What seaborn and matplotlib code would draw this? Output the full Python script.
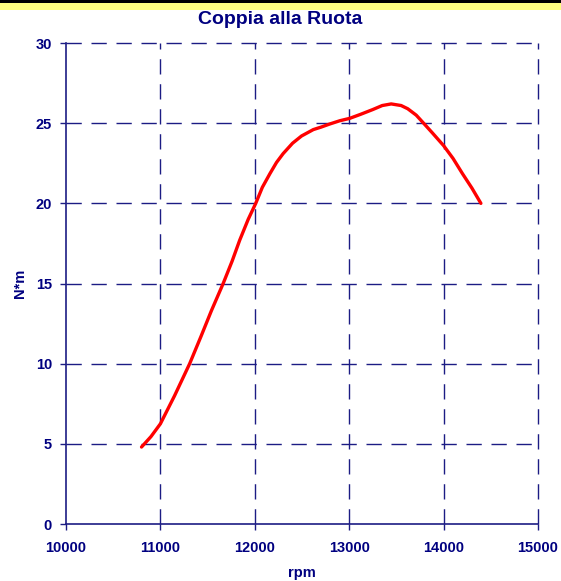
import numpy as np
import pandas as pd
import matplotlib
matplotlib.use("Agg")
import matplotlib.pyplot as plt
import seaborn as sns
from matplotlib.patches import Rectangle

# values
rpm = [10800, 10900, 11000, 11150, 11310, 11430, 11540, 11665, 11760, 11840,
       11930, 12010, 12080, 12160, 12230, 12300, 12400, 12495, 12620, 12700,
       12795, 12900, 13005, 13120, 13250, 13350, 13445, 13550, 13620, 13710,
       13780, 13880, 14000, 14100, 14200, 14300, 14395]
coppia = [4.8, 5.45, 6.25, 8.0, 10.0, 11.7, 13.3, 15.0, 16.4, 17.7,
          19.0, 20.0, 21.0, 21.85, 22.55, 23.1, 23.75, 24.2, 24.6, 24.75,
          24.95, 25.15, 25.3, 25.55, 25.85, 26.1, 26.2, 26.1, 25.9, 25.5,
          25.05, 24.4, 23.6, 22.8, 21.85, 20.95, 20.0]
x_ticks = [10000, 11000, 12000, 13000, 14000, 15000]
y_ticks = [0, 5, 10, 15, 20, 25, 30]

NAVY = "#000080"
GRID = "#1c1c84"

sns.set_theme(style="white")
plt.rcParams["font.family"] = ["Liberation Sans", "DejaVu Sans"]
plt.rcParams["lines.scale_dashes"] = False

df = pd.DataFrame({"rpm": rpm, "coppia": coppia})

fig = plt.figure(figsize=(5.61, 5.81), dpi=100)
ax = fig.add_axes([66 / 561, 1 - 524 / 581, 472 / 561, 481 / 581])

# top band: black line + yellow stripe
fig.patches.append(Rectangle((0, 1 - 3 / 581), 1, 3 / 581, transform=fig.transFigure,
                             facecolor="black", edgecolor="none", zorder=5))
fig.patches.append(Rectangle((0, 1 - 10 / 581), 1, 7 / 581, transform=fig.transFigure,
                             facecolor="#ffff80", edgecolor="none", zorder=5))

for xv in x_ticks[1:]:
    ax.axvline(xv, color=GRID, lw=1.0, dashes=(11, 7), zorder=1, clip_on=False)
for yv in y_ticks[1:]:
    ax.axhline(yv, color=GRID, lw=1.0, dashes=(11, 7), zorder=1, clip_on=False)

sns.lineplot(data=df, x="rpm", y="coppia", ax=ax, color="#ff0000", lw=2.4,
             zorder=3, sort=False)

ax.set_xlim(10000, 15000)
ax.set_ylim(0, 30)
ax.set_xticks(x_ticks)
ax.set_yticks(y_ticks)
ax.set_xticklabels([str(v) for v in x_ticks])
ax.set_yticklabels([str(v) for v in y_ticks])

for side in ["top", "right"]:
    ax.spines[side].set_visible(False)
for side in ["left", "bottom"]:
    ax.spines[side].set_color(GRID)
    ax.spines[side].set_linewidth(1.2)

ax.tick_params(axis="both", which="major", direction="out", length=4, width=1,
               color=GRID, labelcolor=NAVY, labelsize=10.5, left=True, bottom=True)
ax.tick_params(axis="x", pad=8)
ax.tick_params(axis="y", pad=6)
for lab in ax.get_xticklabels() + ax.get_yticklabels():
    lab.set_fontweight("bold")

ax.set_xlabel("rpm", color=NAVY, fontsize=10.5, fontweight="bold", labelpad=8)
ax.set_ylabel("N*m", color=NAVY, fontsize=10.5, fontweight="bold", labelpad=6)
ax.set_facecolor("white")
ax.grid(False)

fig.text(0.5, 1 - 19 / 581, "Coppia alla Ruota", ha="center", va="center",
         color=NAVY, fontsize=14, fontweight="bold")

fig.savefig("out.png", dpi=100, facecolor="white")
